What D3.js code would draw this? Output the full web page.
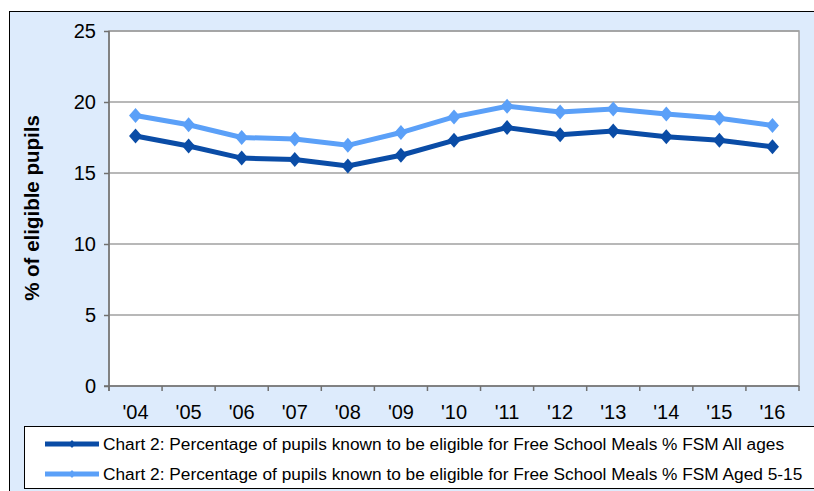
<!DOCTYPE html>
<html>
<head>
<meta charset="utf-8">
<script src="https://cdn.jsdelivr.net/npm/d3@7"></script>
<style>
  body { margin: 0; background: #fff; }
  text { font-family: "Liberation Sans", Arial, sans-serif; }
</style>
</head>
<body>
<div id="chart"></div>
<script>
// data
var years = ["'04", "'05", "'06", "'07", "'08", "'09", "'10", "'11", "'12", "'13", "'14", "'15", "'16"];
var allAges = [17.6, 16.9, 16.05, 15.95, 15.5, 16.25, 17.3, 18.2, 17.7, 17.95, 17.55, 17.3, 16.85];
var aged515 = [19.05, 18.4, 17.5, 17.4, 16.95, 17.85, 18.95, 19.7, 19.3, 19.5, 19.15, 18.85, 18.35];
var yTicks = [0, 5, 10, 15, 20, 25];
var seriesNames = [
  "Chart 2: Percentage of pupils known to be eligible for Free School Meals % FSM All ages",
  "Chart 2: Percentage of pupils known to be eligible for Free School Meals % FSM Aged 5-15"
];
var seriesColors = ["#0a4ca6", "#5ba0f8"];

var svgWidth = 814;
var svgHeight = 491;

var margin = { top: 31, right: 15, bottom: 105, left: 109 };
var width = 799 - margin.left;
var height = 386 - margin.top;

var svg = d3.select("#chart")
  .append("svg")
  .attr("width", svgWidth)
  .attr("height", svgHeight);

// chart area background
svg.append("rect")
  .attr("x", 9.5).attr("y", 11.5)
  .attr("width", 820).attr("height", 490)
  .attr("fill", "#ddebfc")
  .attr("stroke", "#000")
  .attr("stroke-width", 1);

var chartGroup = svg.append("g")
  .attr("transform", `translate(${margin.left}, ${margin.top})`);

var xScale = d3.scaleBand()
  .domain(years)
  .range([0, width]);

var yScale = d3.scaleLinear()
  .domain([0, 25])
  .range([height, 0]);

// plot area
chartGroup.append("rect")
  .attr("width", width).attr("height", height)
  .attr("fill", "#fff")
  .attr("stroke", "#a0a0a0")
  .attr("stroke-width", 1.5);

// gridlines
chartGroup.selectAll(".grid")
  .data(yTicks.filter(d => d > 0))
  .enter()
  .append("line")
  .attr("x1", 0).attr("x2", width)
  .attr("y1", d => yScale(d)).attr("y2", d => yScale(d))
  .attr("stroke", "#a0a0a0")
  .attr("stroke-width", 1.3);

// axes
var leftAxis = d3.axisLeft(yScale).tickValues(yTicks).tickSize(5).tickPadding(8);
var yAxis = chartGroup.append("g").call(leftAxis);
yAxis.select(".domain").remove();
yAxis.selectAll("line").attr("stroke", "#707070").attr("stroke-width", 1.5);
yAxis.selectAll("text").attr("font-size", "20px").attr("fill", "#000")
  .attr("font-family", "Liberation Sans, Arial, sans-serif");

chartGroup.append("line")
  .attr("x1", 0).attr("x2", 0).attr("y1", 0).attr("y2", height + 5)
  .attr("stroke", "#707070").attr("stroke-width", 1.5);
chartGroup.append("line")
  .attr("x1", -5).attr("x2", width).attr("y1", height).attr("y2", height)
  .attr("stroke", "#707070").attr("stroke-width", 1.5);

// x ticks between categories
var boundaries = years.map(d => xScale(d)).concat([width]);
chartGroup.selectAll(".xtick")
  .data(boundaries)
  .enter()
  .append("line")
  .attr("x1", d => d).attr("x2", d => d)
  .attr("y1", height).attr("y2", height + 5)
  .attr("stroke", "#707070").attr("stroke-width", 1.5);

chartGroup.selectAll(".xlabel")
  .data(years)
  .enter()
  .append("text")
  .attr("x", d => xScale(d) + xScale.bandwidth() / 2)
  .attr("y", height + 33)
  .attr("text-anchor", "middle")
  .attr("font-size", "20px")
  .text(d => d);

// y axis title
svg.append("text")
  .attr("transform", "translate(39, 208) rotate(-90)")
  .attr("text-anchor", "middle")
  .attr("font-size", "20.5px")
  .attr("font-weight", "bold")
  .text("% of eligible pupils");

// lines and diamond markers
var line = d3.line()
  .x((d, i) => xScale(years[i]) + xScale.bandwidth() / 2)
  .y(d => yScale(d));

// excel-like diamond: a bit wider than d3's default
function diamondPath(rx, ry) {
  return `M0,${-ry}L${rx},0L0,${ry}L${-rx},0Z`;
}

[allAges, aged515].forEach(function(series, k) {
  chartGroup.append("path")
    .datum(series)
    .attr("d", line)
    .attr("fill", "none")
    .attr("stroke", seriesColors[k])
    .attr("stroke-width", 5);

  chartGroup.selectAll(".marker" + k)
    .data(series)
    .enter()
    .append("path")
    .attr("d", diamondPath(6.5, 7.5))
    .attr("transform", (d, i) => `translate(${xScale(years[i]) + xScale.bandwidth() / 2}, ${yScale(d)})`)
    .attr("fill", seriesColors[k]);
});

// legend
var legend = svg.append("g");
legend.append("rect")
  .attr("x", 24.5).attr("y", 426.5)
  .attr("width", 800).attr("height", 62)
  .attr("fill", "#fff")
  .attr("stroke", "#000")
  .attr("stroke-width", 1);

seriesNames.forEach(function(name, k) {
  var cy = 444 + k * 30;
  legend.append("line")
    .attr("x1", 45).attr("x2", 99)
    .attr("y1", cy).attr("y2", cy)
    .attr("stroke", seriesColors[k])
    .attr("stroke-width", 5);
  legend.append("path")
    .attr("d", diamondPath(3.5, 4))
    .attr("transform", `translate(72, ${cy})`)
    .attr("fill", seriesColors[k]);
  legend.append("text")
    .attr("x", 103)
    .attr("y", cy + 6)
    .attr("font-size", "17.3px")
    .text(name);
});
</script>
</body>
</html>
